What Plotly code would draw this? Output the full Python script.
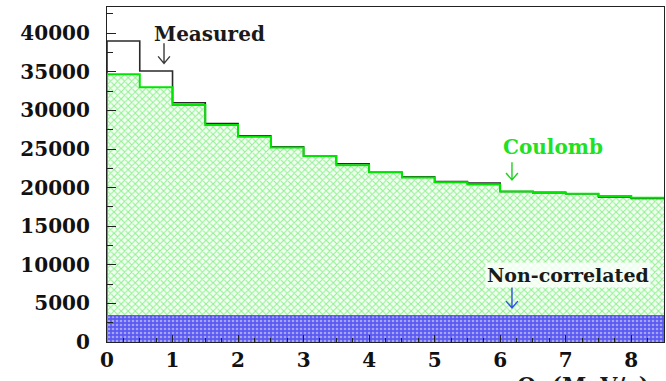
import plotly.graph_objects as go

# Histogram binning: 17 bins of 0.5 MeV/c from 0 to 8.5
bin_edges = [0.0, 0.5, 1.0, 1.5, 2.0, 2.5, 3.0, 3.5, 4.0, 4.5, 5.0,
             5.5, 6.0, 6.5, 7.0, 7.5, 8.0, 8.5]
measured = [39000, 35100, 31000, 28300, 26700, 25300, 24100, 23100, 22000,
            21400, 20800, 20600, 19500, 19400, 19200, 18800, 18600]
coulomb = [34700, 33000, 30700, 28100, 26600, 25200, 24100, 22900, 22000,
           21300, 20700, 20400, 19500, 19300, 19200, 18900, 18700]
non_correlated = [3400] * 17

y_ticks = [0, 5000, 10000, 15000, 20000, 25000, 30000, 35000, 40000]
x_ticks = [0, 1, 2, 3, 4, 5, 6, 7, 8]

centers = [(a + b) / 2 for a, b in zip(bin_edges[:-1], bin_edges[1:])]
widths = [b - a for a, b in zip(bin_edges[:-1], bin_edges[1:])]

SERIF = "DejaVu Serif"

fig = go.Figure()

# Coulomb component: green cross-hatched histogram
fig.add_trace(go.Bar(
    x=centers, y=coulomb, width=widths,
    marker=dict(
        color="white",
        line=dict(width=0),
        pattern=dict(shape="x", fgcolor="#2fe02f", bgcolor="#f2fff2",
                     size=5, solidity=0.38, fillmode="overlay"),
    ),
    showlegend=False, hoverinfo="skip",
))

# Non-correlated background: dense blue fill
fig.add_trace(go.Bar(
    x=centers, y=non_correlated, width=widths,
    marker=dict(
        color="#5a5af0",
        line=dict(width=0),
        pattern=dict(shape=".", fgcolor="#a4a4ff", bgcolor="#5a5af0",
                     size=4, solidity=0.35, fillmode="replace"),
    ),
    showlegend=False, hoverinfo="skip",
))

def step_xy(values):
    xs = [bin_edges[0]] + list(bin_edges)
    ys = [0] + list(values) + [values[-1]]
    return xs, ys

# Outline of the blue region
bx, by = step_xy(non_correlated)
fig.add_trace(go.Scatter(x=bx, y=by, mode="lines", line_shape="hv",
                         line=dict(color="#3030d8", width=1.2),
                         showlegend=False, hoverinfo="skip"))

# Measured distribution outline
mx, my = step_xy(measured)
fig.add_trace(go.Scatter(x=mx, y=my, mode="lines", line_shape="hv",
                         line=dict(color="#2a2a2a", width=1.6),
                         showlegend=False, hoverinfo="skip"))

# Coulomb outline
cx, cy = step_xy(coulomb)
fig.add_trace(go.Scatter(x=cx, y=cy, mode="lines", line_shape="hv",
                         line=dict(color="#00e600", width=2),
                         showlegend=False, hoverinfo="skip"))

label_font = dict(family=SERIF, size=20, weight="bold")

annotations = [
    dict(x=1.57, y=39900, text="Measured", showarrow=False,
         font=dict(label_font, color="#1a1a1a")),
    dict(x=6.81, y=25300, text="Coulomb", showarrow=False,
         font=dict(label_font, color="#22e022")),
    dict(x=7.03, y=8700, text="Non-correlated", showarrow=False,
         bgcolor="rgba(250,255,250,0.85)",
         font=dict(family=SERIF, size=19, weight="bold", color="#1a1a1a")),
    dict(x=0.733, y=-0.083, xref="paper", yref="paper",
         xanchor="left", yanchor="top", text="Q  (MeV/c)", showarrow=False,
         font=dict(family=SERIF, size=22, weight="bold", color="#1a1a1a")),
]


def down_arrow(x, y_top, y_bottom, color, half_w=0.09, head_h=900):
    """Thin open-headed arrow pointing down, in data coordinates."""
    path = (f"M {x},{y_top} L {x},{y_bottom} "
            f"M {x - half_w},{y_bottom + head_h} L {x},{y_bottom} "
            f"L {x + half_w},{y_bottom + head_h}")
    return dict(type="path", xref="x", yref="y", path=path,
                line=dict(color=color, width=1.4))


shapes = [
    down_arrow(0.87, 38700, 36100, "#3a3a3a"),
    down_arrow(6.18, 23300, 21000, "#22d022"),
    down_arrow(6.18, 7100, 4400, "#3050e0"),
]

fig.update_layout(
    width=666, height=381,
    margin=dict(l=107, r=2, t=7, b=39),
    paper_bgcolor="white", plot_bgcolor="white",
    barmode="overlay", bargap=0,
    annotations=annotations,
    shapes=shapes,
    xaxis=dict(
        range=[0, 8.5], tickvals=x_ticks, ticktext=[str(v) for v in x_ticks],
        ticks="inside", ticklen=7, tickcolor="#222", tickwidth=1,
        minor=dict(dtick=0.25, ticks="inside", ticklen=4, tickcolor="#222"),
        showline=True, linecolor="#222", linewidth=1.2, mirror=True,
        showgrid=False, zeroline=False,
        tickfont=dict(family=SERIF, size=20, weight="bold", color="#111"),
    ),
    yaxis=dict(
        range=[0, 43400], tickvals=y_ticks, ticktext=[str(v) for v in y_ticks],
        ticks="inside", ticklen=9, tickcolor="#222", tickwidth=1,
        minor=dict(dtick=2500, ticks="inside", ticklen=6, tickcolor="#222"),
        showline=True, linecolor="#222", linewidth=1.2, mirror=True,
        showgrid=False, zeroline=False, ticklabelstandoff=12,
        tickfont=dict(family=SERIF, size=20, weight="bold", color="#111"),
    ),
)

fig.write_html("out.html")
